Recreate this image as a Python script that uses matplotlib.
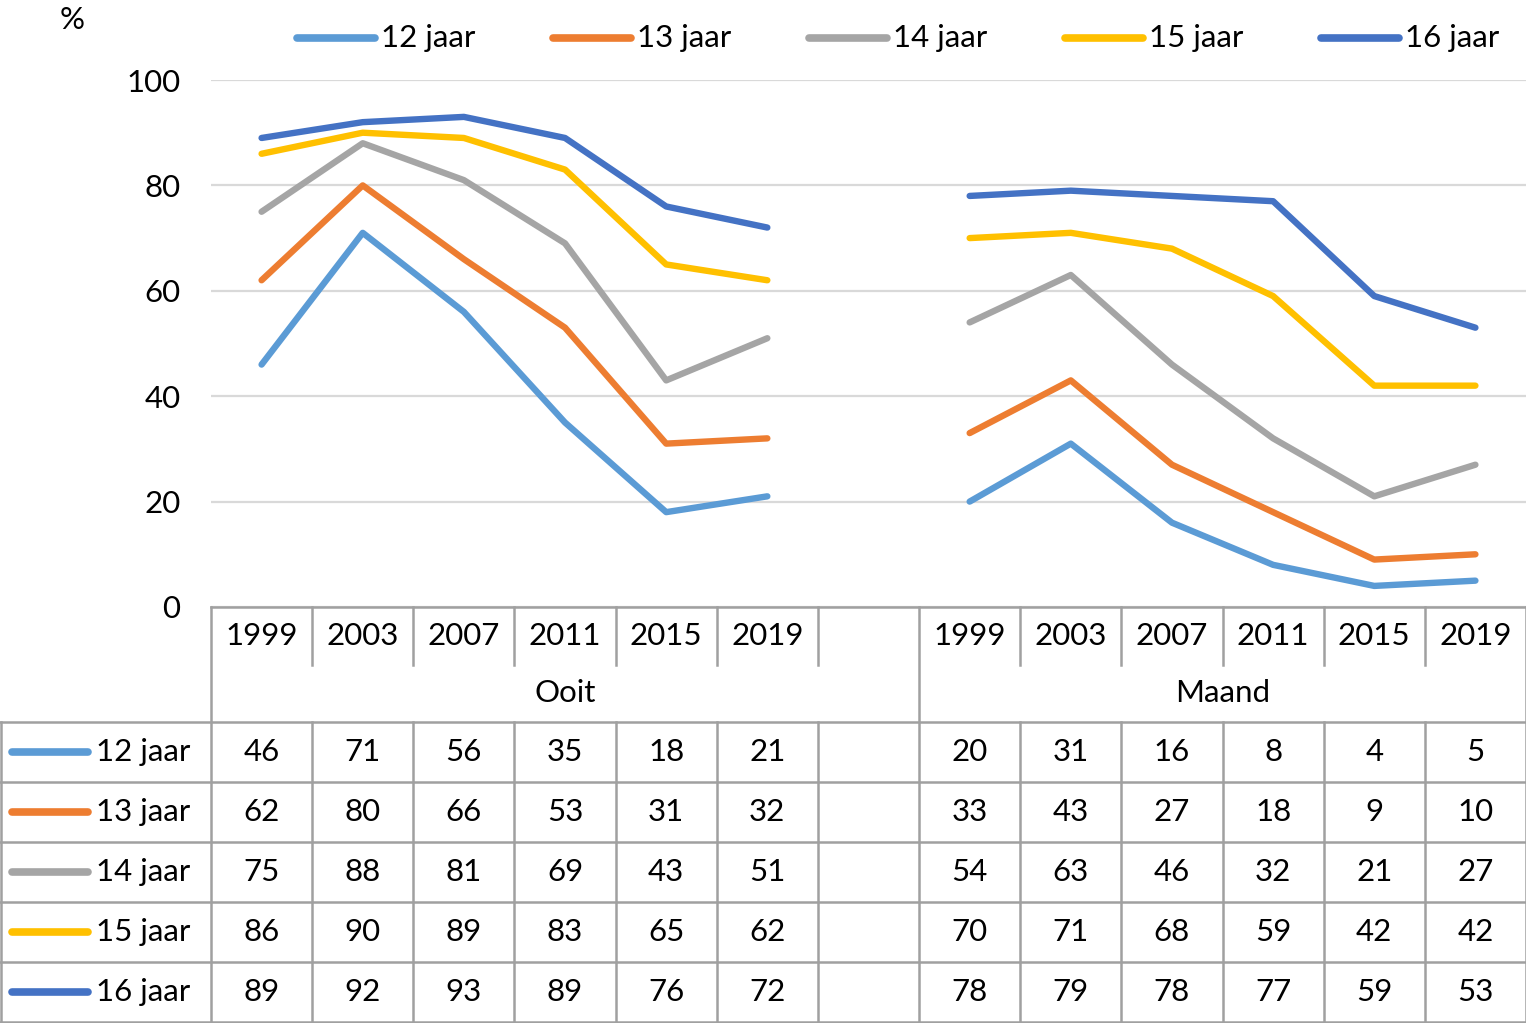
import numpy as np
import matplotlib.pyplot as plt
from matplotlib import transforms
from matplotlib.lines import Line2D

plt.rcParams['font.family'] = ['Lato', 'DejaVu Sans']

years = ['1999', '2003', '2007', '2011', '2015', '2019']
groups = ['Ooit', 'Maand']
labels = ['12 jaar', '13 jaar', '14 jaar', '15 jaar', '16 jaar']
colors = ['#5B9BD5', '#ED7D31', '#A5A5A5', '#FFC000', '#4472C4']

ooit = [
    [46, 71, 56, 35, 18, 21],
    [62, 80, 66, 53, 31, 32],
    [75, 88, 81, 69, 43, 51],
    [86, 90, 89, 83, 65, 62],
    [89, 92, 93, 89, 76, 72],
]
maand = [
    [20, 31, 16, 8, 4, 5],
    [33, 43, 27, 18, 9, 10],
    [54, 63, 46, 32, 21, 27],
    [70, 71, 68, 59, 42, 42],
    [78, 79, 78, 77, 59, 53],
]

W, H = 1526, 1023
FS = 22.5
fig = plt.figure(figsize=(W / 100, H / 100), dpi=100)

def fy(py):
    return 1 - py / H

def fx(px):
    return px / W

ax = fig.add_axes([fx(211), fy(607), fx(1526) - fx(211), fy(80) - fy(607)])

x_ooit = np.arange(6)
x_maand = np.arange(7, 13)
for i in range(5):
    ax.plot(x_ooit, ooit[i], color=colors[i], lw=4.6, solid_capstyle='round', zorder=3)
    ax.plot(x_maand, maand[i], color=colors[i], lw=4.6, solid_capstyle='round', zorder=3)

ax.set_xlim(-0.5, 12.5)
ax.set_ylim(0, 100)
ax.set_yticks(range(0, 101, 20))
ax.tick_params(axis='y', length=0, pad=22, labelsize=FS)
ax.set_xticks([])
ax.grid(axis='y', color='#D9D9D9', lw=1.6)
ax.set_axisbelow(True)
for s in ['top', 'right', 'left']:
    ax.spines[s].set_visible(False)
ax.spines['bottom'].set_color('#A0A0A0')
ax.spines['bottom'].set_linewidth(1.8)

fig.text(fx(72), fy(20), '%', fontsize=FS, ha='center', va='center')

# legend on top
for i, lab in enumerate(labels):
    x0 = 297 + 256 * i
    fig.add_artist(Line2D([fx(x0), fx(x0 + 78)], [fy(38), fy(38)], color=colors[i],
                          lw=5.5, solid_capstyle='round'))
    fig.text(fx(x0 + 84), fy(38), lab, fontsize=FS, ha='left', va='center')

# data table
tr = transforms.blended_transform_factory(ax.transData, fig.transFigure)
gc = '#A0A0A0'
glw = 1.8

def vline(xd, y0, y1):
    fig.add_artist(Line2D([xd, xd], [fy(y0), fy(y1)], transform=tr, color=gc, lw=glw))

def hline(y):
    fig.add_artist(Line2D([0, 1], [fy(y), fy(y)], transform=fig.transFigure, color=gc, lw=glw))

for k in range(14):
    xd = k - 0.5
    if k in (0, 7, 13):
        vline(xd, 607, 1022)
    else:
        vline(xd, 607, 665)
        vline(xd, 722, 1022)

row_lines = [722, 782, 842, 902, 962, 1022]
for y in row_lines:
    hline(y)
fig.add_artist(Line2D([fx(1), fx(1)], [fy(722), fy(1022)], transform=fig.transFigure, color=gc, lw=glw))

for j, yr in enumerate(years):
    fig.text(x_ooit[j], fy(636), yr, transform=tr, fontsize=FS, ha='center', va='center')
    fig.text(x_maand[j], fy(636), yr, transform=tr, fontsize=FS, ha='center', va='center')
fig.text(3.0, fy(693), groups[0], transform=tr, fontsize=FS, ha='center', va='center')
fig.text(np.mean(x_maand), fy(693), groups[1], transform=tr, fontsize=FS, ha='center', va='center')

for i in range(5):
    yc = 752 + 60 * i
    fig.add_artist(Line2D([fx(12), fx(88)], [fy(yc), fy(yc)], color=colors[i],
                          lw=5.5, solid_capstyle='round'))
    fig.text(fx(96), fy(yc), labels[i], fontsize=FS, ha='left', va='center')
    for j in range(6):
        fig.text(x_ooit[j], fy(yc), str(ooit[i][j]), transform=tr, fontsize=FS,
                 ha='center', va='center')
        fig.text(x_maand[j], fy(yc), str(maand[i][j]), transform=tr, fontsize=FS,
                 ha='center', va='center')

fig.savefig('out.png', dpi=100)
